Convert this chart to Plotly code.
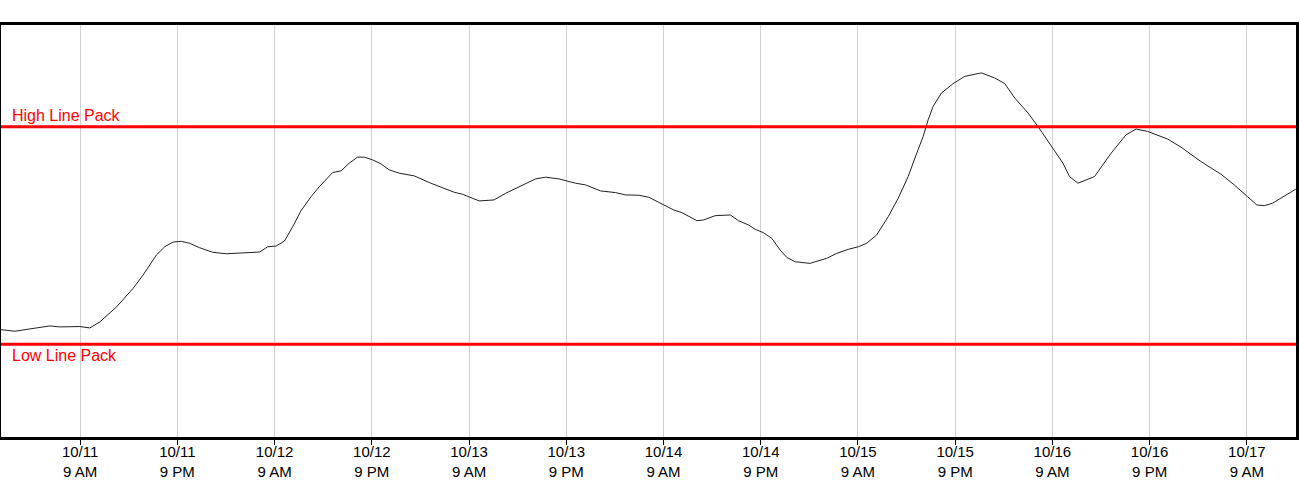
import pandas as pd
import plotly.graph_objects as go

# hours after 2023-10-10 23:00 and line pack (relative units)
START = "2023-10-10 23:00"
hours = [
    0.11, 1.96, 3.81, 6.27, 7.50, 9.97, 11.20, 12.43, 14.49, 16.53,
    17.76, 19.41, 20.44, 21.46, 22.49, 23.52, 24.75, 26.39, 28.04, 29.67,
    32.14, 33.16, 34.19, 35.22, 36.24, 37.27, 38.51, 39.53, 41.17, 42.20,
    43.22, 44.25, 45.07, 46.09, 47.13, 48.15, 49.38, 51.23, 53.29, 56.16,
    57.18, 59.24, 61.08, 62.53, 64.16, 66.22, 67.45, 69.09, 71.15, 72.38,
    74.23, 76.08, 77.31, 78.95, 80.18, 81.82, 83.26, 84.28, 86.13, 86.95,
    88.39, 90.24, 91.26, 92.50, 93.32, 94.34, 95.37, 96.40, 97.21, 98.25,
    100.10, 100.71, 102.14, 103.37, 104.81, 106.05, 107.07, 108.30, 109.74, 110.97,
    112.20, 113.03, 114.05, 114.67, 115.28, 116.31, 117.75, 119.19, 121.23, 122.88,
    124.12, 125.35, 126.99, 128.22, 129.45, 130.28, 131.30, 132.12, 133.15, 135.20,
    137.25, 139.10, 140.33, 141.77, 144.23, 145.87, 148.33, 150.80, 152.45, 154.08,
    155.23, 156.14, 157.17, 160.03,
]
line_pack = [
    26.08, 25.67, 26.23, 26.96, 26.72, 26.81, 26.47, 27.93, 31.58, 36.06,
    39.29, 44.16, 46.18, 47.32, 47.49, 47.01, 45.94, 44.82, 44.48, 44.65,
    44.89, 46.18, 46.35, 47.57, 51.05, 54.94, 58.35, 60.78, 64.18, 64.60,
    66.47, 67.93, 67.93, 67.27, 66.30, 64.84, 64.04, 63.38, 61.60, 59.41,
    58.93, 57.30, 57.54, 59.17, 60.78, 62.65, 63.06, 62.65, 61.60, 61.19,
    59.73, 59.32, 58.76, 58.68, 58.20, 56.57, 55.11, 54.45, 52.50, 52.68,
    53.72, 53.89, 52.50, 51.46, 50.41, 49.59, 48.22, 45.38, 43.60, 42.53,
    42.14, 42.53, 43.36, 44.57, 45.55, 46.18, 47.01, 49.03, 53.48, 57.96,
    63.21, 67.69, 72.94, 77.01, 80.24, 83.50, 85.77, 87.54, 88.37, 87.15,
    85.77, 82.28, 78.64, 75.37, 71.73, 69.29, 66.47, 63.21, 61.60, 63.21,
    68.90, 73.36, 74.74, 74.16, 72.31, 70.36, 66.86, 63.79, 61.19, 58.35,
    56.32, 56.15, 56.74, 60.14,
]
HIGH_PACK = 75.3
LOW_PACK = 22.5

_FONT = "Liberation Sans, Arial, sans-serif"
_RED = "#FF0000"

times = pd.Timestamp(START) + pd.to_timedelta(hours, unit="h")

fig = go.Figure()
fig.add_trace(
    go.Scatter(
        x=times,
        y=line_pack,
        mode="lines",
        line=dict(color="#222222", width=1),
        showlegend=False,
        hovertemplate="%{x|%m/%d %-I %p}: %{y:.1f}<extra></extra>",
    )
)

for value, label, anchor, shift in [
    (HIGH_PACK, "High Line Pack", "bottom", 1),
    (LOW_PACK, "Low Line Pack", "top", -1),
]:
    fig.add_hline(y=value, line_color=_RED, line_width=3)
    fig.add_annotation(
        x=0,
        xref="paper",
        y=value,
        yref="y",
        text=label,
        showarrow=False,
        xanchor="left",
        yanchor=anchor,
        xshift=9,
        yshift=shift,
        font=dict(family=_FONT, size=16, color=_RED),
    )

fig.update_layout(
    width=1300,
    height=500,
    template="plotly_white",
    paper_bgcolor="white",
    plot_bgcolor="white",
    margin=dict(t=25, b=63, l=1, r=2),
    font=dict(family=_FONT, size=15, color="black"),
    xaxis=dict(
        type="date",
        range=["2023-10-10 23:14", "2023-10-17 15:04"],
        tick0="2023-10-11 09:00",
        dtick=12 * 3600 * 1000,
        tickformat="%m/%d<br>%-I %p",
        showgrid=True,
        gridcolor="#d0d0d0",
        gridwidth=1,
        showline=True,
        linecolor="black",
        linewidth=3,
        mirror=True,
        ticks="outside",
        ticklen=5,
        tickcolor="black",
        ticklabelstandoff=-6,
        tickfont=dict(family=_FONT, size=15, color="black"),
        zeroline=False,
    ),
    yaxis=dict(
        range=[0, 100],
        showticklabels=False,
        showgrid=False,
        zeroline=False,
        showline=True,
        linecolor="black",
        linewidth=3,
        mirror=True,
    ),
)

fig.write_html(
    "out.html",
    config={"displayModeBar": False},
    post_script="document.body.style.margin = '0';",
)
